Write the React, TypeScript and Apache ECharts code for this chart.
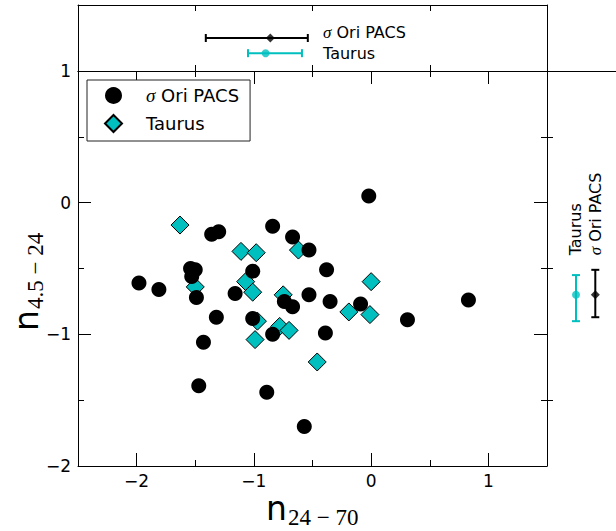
import React, { useEffect, useRef } from 'react';
import * as echarts from 'echarts';

// Spectral indices of the two samples
const sigmaOriX = [-0.02, -1.98, -1.81, -1.54, -1.50, -1.53, -1.49, -1.36, -1.30, -0.84, -1.01, -1.16, -1.32, -1.01, -0.84, -1.43, -1.47, -0.89, -0.67, -0.53, -0.38, -0.74, -0.67, -0.53, -0.35, -0.09, -0.39, -0.57, 0.31, 0.83];
const sigmaOriY = [0.05, -0.61, -0.66, -0.50, -0.51, -0.56, -0.72, -0.24, -0.22, -0.18, -0.52, -0.69, -0.87, -0.88, -1.00, -1.06, -1.39, -1.44, -0.26, -0.36, -0.51, -0.75, -0.79, -0.70, -0.75, -0.77, -0.99, -1.70, -0.89, -0.74];

const taurusX = [-1.63, -1.11, -0.98, -1.50, -1.07, -1.01, -0.97, -0.99, -0.62, -0.75, -0.78, -0.70, -0.46, -0.19, -0.01, 0.00];
const taurusY = [-0.17, -0.37, -0.38, -0.64, -0.60, -0.68, -0.90, -1.04, -0.36, -0.70, -0.94, -0.97, -1.21, -0.83, -0.85, -0.60];

// Representative error bars (order: σ Ori PACS, Taurus)
const errNames = ['σ Ori PACS', 'Taurus'];
const errColors = ['#000000', '#00BFBF'];
const errSymbols = ['diamond', 'circle'];
const errXCenter = [-0.86, -0.90];
const errXLow = [-1.41, -1.05];
const errXHigh = [-0.54, -0.59];
const errXRow = [0.5, 0.27];
const errYCenter = [-0.70, -0.70];
const errYLow = [-0.87, -0.90];
const errYHigh = [-0.51, -0.55];
const errYCol = [0.70, 0.42];

// Tick values
const xTicks = [-2, -1, 0, 1];
const yTicks = [-2, -1, 0, 1];

// where the error-bar captions sit, in each panel's own units
const labelXTop = -0.41;
const labelRowTop = [0.59, 0.27];
const labelYRight = -0.4;

const fmt = (v: number) => (v < 0 ? '\u2212' + Math.abs(v) : String(v));
const black = { color: '#000', width: 1 };
const tickFont = { fontFamily: 'DejaVu Sans', fontSize: 17, color: '#000' };

const richLabel = (name: string) =>
  name.startsWith('σ') ? '{m|σ}{t| Ori PACS}' : '{t|' + name + '}';

const labelRich = {
  m: { fontFamily: 'Liberation Serif', fontStyle: 'italic', fontSize: 17, lineHeight: 14 },
  t: { fontFamily: 'DejaVu Sans', fontSize: 16, lineHeight: 14 },
};

export default function App() {
  const ref = useRef<HTMLDivElement>(null);

  useEffect(() => {
    if (!ref.current) return;
    const chart = echarts.init(ref.current, undefined, { renderer: 'svg' });

    const base = {
      type: 'value',
      splitLine: { show: false },
      minorSplitLine: { show: false },
    };
    const frameLine = { show: true, onZero: false, lineStyle: black };
    const noLine = { show: false, onZero: false };

    const option: any = {
      animation: false,
      backgroundColor: '#fff',
      grid: [
        { left: 78, top: 71, width: 469, height: 395 },
        { left: 78, top: 5, width: 469, height: 66 },
        { left: 547, top: 71, width: 69, height: 395 },
      ],
      xAxis: [
        // main panel, bottom edge ticks
        {
          ...base, gridIndex: 0, position: 'bottom', min: -2.5, max: 1.5, interval: 1,
          axisLine: frameLine,
          axisTick: { show: true, inside: true, length: 6, lineStyle: black },
          minorTick: { show: true, splitNumber: 2, length: 13, lineStyle: black },
          axisLabel: { show: false },
        },
        // main panel, bottom labels
        {
          ...base, gridIndex: 0, position: 'bottom', min: -2.5, max: 1.5, interval: 0.5,
          axisLine: noLine, axisTick: { show: false },
          axisLabel: {
            show: true, margin: 6, ...tickFont,
            formatter: (v: number) => (xTicks.includes(Math.round(v * 100) / 100) ? fmt(v) : ''),
          },
        },
        // main panel, top edge
        {
          ...base, gridIndex: 0, position: 'top', min: -2.5, max: 1.5, interval: 1,
          axisLine: frameLine,
          axisTick: { show: true, inside: true, length: 6, lineStyle: black },
          minorTick: { show: true, splitNumber: 2, length: 13, lineStyle: black },
          axisLabel: { show: false },
        },
        // top panel, bottom edge
        {
          ...base, gridIndex: 1, position: 'bottom', min: -2.5, max: 1.5, interval: 1,
          axisLine: frameLine,
          axisTick: { show: true, inside: true, length: 6, lineStyle: black },
          axisLabel: { show: false },
        },
        // top panel, top edge
        {
          ...base, gridIndex: 1, position: 'top', min: -2.5, max: 1.5, interval: 1,
          axisLine: frameLine,
          axisTick: { show: true, inside: true, length: 6, lineStyle: black },
          axisLabel: { show: false },
        },
        // right panel, top edge
        {
          ...base, gridIndex: 2, position: 'top', min: 0, max: 1,
          axisLine: frameLine,
          axisTick: { show: false }, axisLabel: { show: false },
        },
      ],
      yAxis: [
        // main panel, left
        {
          ...base, gridIndex: 0, position: 'left', min: -2, max: 1, interval: 1,
          axisLine: frameLine,
          axisTick: { show: true, inside: true, length: 13, lineStyle: black },
          minorTick: { show: true, splitNumber: 2, length: 6, lineStyle: black },
          axisLabel: {
            show: true, margin: 7, ...tickFont,
            formatter: (v: number) => (yTicks.includes(v) ? fmt(v) : ''),
          },
        },
        // main panel, right
        {
          ...base, gridIndex: 0, position: 'right', min: -2, max: 1, interval: 1,
          axisLine: frameLine,
          axisTick: { show: true, inside: true, length: 13, lineStyle: black },
          minorTick: { show: true, splitNumber: 2, length: 6, lineStyle: black },
          axisLabel: { show: false },
        },
        // top panel, left
        {
          ...base, gridIndex: 1, position: 'left', min: 0, max: 1,
          axisLine: frameLine,
          axisTick: { show: false }, axisLabel: { show: false },
        },
        // top panel, right
        {
          ...base, gridIndex: 1, position: 'right', min: 0, max: 1,
          axisLine: frameLine,
          axisTick: { show: false }, axisLabel: { show: false },
        },
        // right panel, left (ticks at half values only)
        {
          ...base, gridIndex: 2, position: 'left', min: -2, max: 1, interval: 1,
          axisLine: noLine,
          axisTick: { show: false, inside: true },
          minorTick: { show: true, splitNumber: 2, length: 6, lineStyle: black },
          axisLabel: { show: false },
        },
      ],
      legend: {
        left: 87, top: 80, orient: 'vertical',
        data: ['σ Ori PACS', 'Taurus'],
        padding: [6, 11, 8, 17],
        itemWidth: 17, itemHeight: 17, itemGap: 9,
        borderColor: '#222', borderWidth: 1, borderRadius: 0,
        backgroundColor: '#fff',
        selectedMode: false,
        formatter: (name: string) => '{g|}' + richLabel(name),
        textStyle: {
          fontFamily: 'DejaVu Sans', fontSize: 18, color: '#000', lineHeight: 18,
          rich: {
            g: { width: 19, lineHeight: 18 },
            m: { fontFamily: 'Liberation Serif', fontStyle: 'italic', fontSize: 19, lineHeight: 18 },
            t: { fontFamily: 'DejaVu Sans', fontSize: 18, lineHeight: 18 },
          },
        },
      },
      graphic: [
        {
          type: 'group', x: 266, y: 508,
          children: [
            { type: 'text', x: 0, y: 0, style: { text: 'n', fontFamily: 'DejaVu Sans', fontSize: 33, fill: '#000', align: 'left', verticalAlign: 'middle' } },
            { type: 'text', x: 22, y: 9, style: { text: '24 \u2212 70', fontFamily: 'Liberation Serif', fontSize: 23, lineHeight: 20, fill: '#000', align: 'left', verticalAlign: 'middle' } },
          ],
        },
        {
          type: 'group', x: 26, y: 331, rotation: Math.PI / 2,
          children: [
            { type: 'text', x: 0, y: 0, style: { text: 'n', fontFamily: 'DejaVu Sans', fontSize: 33, fill: '#000', align: 'left', verticalAlign: 'middle' } },
            { type: 'text', x: 22, y: 9, style: { text: '4.5 \u2212 24', fontFamily: 'Liberation Serif', fontSize: 23, lineHeight: 20, fill: '#000', align: 'left', verticalAlign: 'middle' } },
          ],
        },
      ],
      series: [
        {
          name: 'Taurus', type: 'scatter', xAxisIndex: 0, yAxisIndex: 0,
          symbol: 'diamond', symbolSize: 18, z: 2,
          itemStyle: { color: '#00BFBF', borderColor: '#000', borderWidth: 1, opacity: 1 },
          data: taurusX.map((x, i) => [x, taurusY[i]]),
        },
        {
          name: 'σ Ori PACS', type: 'scatter', xAxisIndex: 0, yAxisIndex: 0,
          symbol: 'circle', symbolSize: 15, z: 3,
          itemStyle: { color: '#000', opacity: 1 },
          data: sigmaOriX.map((x, i) => [x, sigmaOriY[i]]),
        },
        // horizontal error bars in the top panel
        {
          name: 'errX', type: 'custom', xAxisIndex: 3, yAxisIndex: 2,
          data: errXCenter.map((c, i) => [c, errXLow[i], errXHigh[i], errXRow[i], i]),
          encode: { x: [0, 1, 2], y: 3 },
          renderItem: (params: any, api: any) => {
            const i = api.value(4);
            const row = api.value(3);
            const lo = api.coord([api.value(1), row]);
            const hi = api.coord([api.value(2), row]);
            const lab = api.coord([labelXTop, labelRowTop[i]]);
            const st = { stroke: errColors[i], lineWidth: 2 };
            return {
              type: 'group',
              children: [
                { type: 'line', shape: { x1: lo[0], y1: lo[1], x2: hi[0], y2: hi[1] }, style: st },
                { type: 'line', shape: { x1: lo[0], y1: lo[1] - 4, x2: lo[0], y2: lo[1] + 4 }, style: st },
                { type: 'line', shape: { x1: hi[0], y1: hi[1] - 4, x2: hi[0], y2: hi[1] + 4 }, style: st },
                {
                  type: 'text', x: lab[0], y: lab[1],
                  style: {
                    text: richLabel(errNames[i]), fill: '#000', align: 'left', verticalAlign: 'middle',
                    fontFamily: 'DejaVu Sans', fontSize: 16, lineHeight: 14, rich: labelRich,
                  },
                },
              ],
            };
          },
          z: 4,
        },
        {
          name: 'errXc', type: 'scatter', xAxisIndex: 3, yAxisIndex: 2, z: 5,
          data: errXCenter.map((c, i) => ({
            value: [c, errXRow[i]], symbol: errSymbols[i], symbolSize: errSymbols[i] === 'diamond' ? 9 : 8,
            itemStyle: { color: errColors[i] },
          })),
        },
        // vertical error bars in the right panel
        {
          name: 'errY', type: 'custom', xAxisIndex: 5, yAxisIndex: 4,
          data: errYCenter.map((c, i) => [errYCol[i], errYLow[i], errYHigh[i], c, i]),
          encode: { x: 0, y: [1, 2, 3] },
          renderItem: (params: any, api: any) => {
            const i = api.value(4);
            const col = api.value(0);
            const lo = api.coord([col, api.value(1)]);
            const hi = api.coord([col, api.value(2)]);
            const lab = api.coord([col, labelYRight]);
            const st = { stroke: errColors[i], lineWidth: 2 };
            return {
              type: 'group',
              children: [
                { type: 'line', shape: { x1: lo[0], y1: lo[1], x2: hi[0], y2: hi[1] }, style: st },
                { type: 'line', shape: { x1: lo[0] - 4, y1: lo[1], x2: lo[0] + 4, y2: lo[1] }, style: st },
                { type: 'line', shape: { x1: hi[0] - 4, y1: hi[1], x2: hi[0] + 4, y2: hi[1] }, style: st },
                {
                  type: 'text', x: lab[0], y: lab[1], rotation: Math.PI / 2,
                  style: {
                    text: richLabel(errNames[i]), fill: '#000', align: 'left', verticalAlign: 'middle',
                    fontFamily: 'DejaVu Sans', fontSize: 16, lineHeight: 14, rich: labelRich,
                  },
                },
              ],
            };
          },
          z: 4,
        },
        {
          name: 'errYc', type: 'scatter', xAxisIndex: 5, yAxisIndex: 4, z: 5,
          data: errYCenter.map((c, i) => ({
            value: [errYCol[i], c], symbol: errSymbols[i], symbolSize: errSymbols[i] === 'diamond' ? 9 : 8,
            itemStyle: { color: errColors[i] },
          })),
        },
      ],
    };

    chart.setOption(option);
    return () => chart.dispose();
  }, []);

  return (
    <div
      ref={ref}
      style={{ position: 'absolute', left: 0, top: 0, width: 616, height: 531, background: '#fff' }}
    />
  );
}
